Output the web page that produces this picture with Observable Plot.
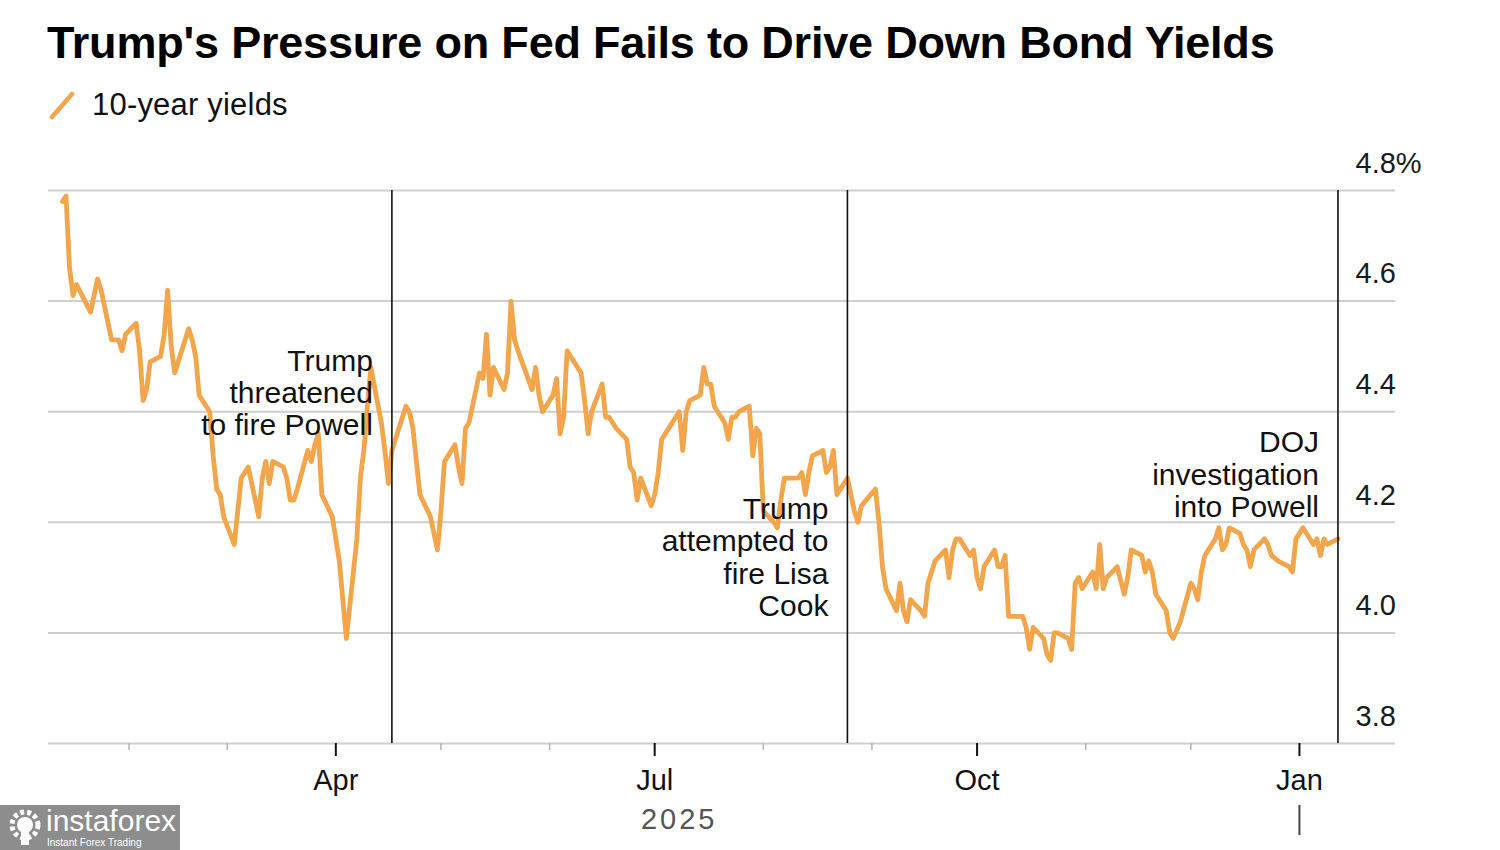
<!DOCTYPE html>
<html>
<head>
<meta charset="utf-8">
<script src="https://cdn.jsdelivr.net/npm/d3@7"></script>
<script src="https://cdn.jsdelivr.net/npm/@observablehq/plot@0.6"></script>
<style>
  html, body { margin: 0; padding: 0; background: #fff; }
  #page { position: relative; width: 1500px; height: 850px; overflow: hidden; font-family: "Liberation Sans", Arial, sans-serif; background: #fff; }
  #title { position: absolute; left: 47px; top: 20px; font-size: 45px; line-height: 45px; font-weight: bold; letter-spacing: -0.2px; color: #000; white-space: nowrap; }
  #legend { position: absolute; left: 48px; top: 89px; height: 32px; width: 400px; }
  #legend svg { position: absolute; left: 0; top: 1px; }
  #legend span { position: absolute; left: 44px; top: 0; font-size: 31px; line-height: 31px; color: #111; white-space: nowrap; letter-spacing: 0.2px; }
  #chart { position: absolute; left: 0; top: 140px; }
  #wm { position: absolute; left: 0; top: 805px; width: 180px; height: 45px; background: #8d8d8d; color: #fff; }
  #wm .big { position: absolute; left: 46px; top: 1px; font-size: 30px; line-height: 30px; white-space: nowrap; }
  #wm .small { position: absolute; left: 47px; top: 33px; font-size: 10px; line-height: 10px; white-space: nowrap; }
</style>
</head>
<body>
<div id="page">
  <div id="title">Trump's Pressure on Fed Fails to Drive Down Bond Yields</div>
  <div id="legend">
    <svg width="30" height="30"><line x1="4" y1="27" x2="24" y2="4" stroke="#F2A54A" stroke-width="4.5" stroke-linecap="round"/></svg>
    <span id="legendLabel"></span>
  </div>
  <div id="chart"></div>
  <div id="wm">
    <svg width="44" height="45" style="position:absolute;left:4px;top:0">
      <circle cx="21" cy="20" r="13" fill="none" stroke="#fff" stroke-width="5" stroke-dasharray="4 3"/>
      <circle cx="21" cy="20" r="8" fill="#fff"/>
      <rect x="17" y="24" width="8" height="16" fill="#fff"/>
    </svg>
    <div class="big">instaforex</div>
    <div class="small">Instant Forex Trading</div>
  </div>
</div>
<script>
// ---- Data ----
const seriesName = "10-year yields";

const dates = [
  "2025-01-13","2025-01-14","2025-01-15","2025-01-16","2025-01-17","2025-01-21","2025-01-22","2025-01-23","2025-01-24","2025-01-27","2025-01-28","2025-01-29","2025-01-30","2025-01-31",
  "2025-02-03","2025-02-04","2025-02-05","2025-02-06","2025-02-07","2025-02-10","2025-02-11","2025-02-12","2025-02-13","2025-02-14","2025-02-18","2025-02-19","2025-02-20","2025-02-21","2025-02-24","2025-02-25","2025-02-26","2025-02-27","2025-02-28",
  "2025-03-03","2025-03-04","2025-03-05","2025-03-06","2025-03-07","2025-03-10","2025-03-11","2025-03-12","2025-03-13","2025-03-14","2025-03-17","2025-03-18","2025-03-19","2025-03-20","2025-03-21","2025-03-24","2025-03-25","2025-03-26","2025-03-27","2025-03-28","2025-03-31",
  "2025-04-01","2025-04-02","2025-04-03","2025-04-04","2025-04-07","2025-04-08","2025-04-09","2025-04-10","2025-04-11","2025-04-14","2025-04-15","2025-04-16","2025-04-17","2025-04-21","2025-04-22","2025-04-23","2025-04-24","2025-04-25","2025-04-28","2025-04-29","2025-04-30",
  "2025-05-01","2025-05-02","2025-05-05","2025-05-06","2025-05-07","2025-05-08","2025-05-09","2025-05-12","2025-05-13","2025-05-14","2025-05-15","2025-05-16","2025-05-19","2025-05-20","2025-05-21","2025-05-22","2025-05-23","2025-05-27","2025-05-28","2025-05-29","2025-05-30",
  "2025-06-02","2025-06-03","2025-06-04","2025-06-05","2025-06-06","2025-06-09","2025-06-10","2025-06-11","2025-06-12","2025-06-13","2025-06-16","2025-06-17","2025-06-18","2025-06-20","2025-06-23","2025-06-24","2025-06-25","2025-06-26","2025-06-27","2025-06-30",
  "2025-07-01","2025-07-02","2025-07-03","2025-07-07","2025-07-08","2025-07-09","2025-07-10","2025-07-11","2025-07-14","2025-07-15","2025-07-16","2025-07-17","2025-07-18","2025-07-21","2025-07-22","2025-07-23","2025-07-24","2025-07-25","2025-07-28","2025-07-29","2025-07-30","2025-07-31",
  "2025-08-01","2025-08-04","2025-08-05","2025-08-06","2025-08-07","2025-08-08","2025-08-11","2025-08-12","2025-08-13","2025-08-14","2025-08-15","2025-08-18","2025-08-19","2025-08-20","2025-08-21","2025-08-22","2025-08-25","2025-08-26","2025-08-27","2025-08-28","2025-08-29",
  "2025-09-02","2025-09-03","2025-09-04","2025-09-05","2025-09-08","2025-09-09","2025-09-10","2025-09-11","2025-09-12","2025-09-15","2025-09-16","2025-09-17","2025-09-18","2025-09-19","2025-09-22","2025-09-23","2025-09-24","2025-09-25","2025-09-26","2025-09-29","2025-09-30",
  "2025-10-01","2025-10-02","2025-10-03","2025-10-06","2025-10-07","2025-10-08","2025-10-09","2025-10-10","2025-10-14","2025-10-15","2025-10-16","2025-10-17","2025-10-20","2025-10-21","2025-10-22","2025-10-23","2025-10-24","2025-10-27","2025-10-28","2025-10-29","2025-10-30","2025-10-31",
  "2025-11-03","2025-11-04","2025-11-05","2025-11-06","2025-11-07","2025-11-10","2025-11-12","2025-11-13","2025-11-14","2025-11-17","2025-11-18","2025-11-19","2025-11-20","2025-11-21","2025-11-24","2025-11-25","2025-11-26","2025-11-28",
  "2025-12-01","2025-12-02","2025-12-03","2025-12-04","2025-12-05","2025-12-08","2025-12-09","2025-12-10","2025-12-11","2025-12-12","2025-12-15","2025-12-16","2025-12-17","2025-12-18","2025-12-19","2025-12-22","2025-12-23","2025-12-24","2025-12-26","2025-12-29","2025-12-30","2025-12-31",
  "2026-01-02","2026-01-05","2026-01-06","2026-01-07","2026-01-08","2026-01-09","2026-01-12"
];

const yields = [
  4.78,4.79,4.66,4.61,4.63,4.58,4.61,4.64,4.62,4.53,4.53,4.53,4.51,4.54,
  4.56,4.51,4.42,4.44,4.49,4.50,4.54,4.62,4.52,4.47,4.55,4.53,4.50,4.43,4.40,4.32,4.26,4.25,4.21,
  4.16,4.22,4.28,4.29,4.30,4.21,4.28,4.31,4.27,4.31,4.30,4.28,4.24,4.24,4.26,4.33,4.31,4.34,4.36,4.25,4.21,
  4.17,4.13,4.06,3.99,4.17,4.28,4.33,4.41,4.48,4.38,4.33,4.27,4.33,4.41,4.40,4.37,4.31,4.25,4.21,4.18,4.15,
  4.22,4.31,4.34,4.30,4.27,4.37,4.38,4.47,4.46,4.54,4.43,4.48,4.44,4.47,4.60,4.53,4.51,4.44,4.48,4.43,4.40,
  4.43,4.46,4.36,4.39,4.51,4.48,4.47,4.42,4.36,4.40,4.45,4.39,4.39,4.37,4.35,4.30,4.29,4.24,4.28,4.23,
  4.25,4.29,4.35,4.39,4.40,4.33,4.40,4.42,4.43,4.48,4.45,4.45,4.41,4.38,4.35,4.39,4.39,4.40,4.41,4.32,4.37,4.36,
  4.22,4.20,4.19,4.24,4.28,4.28,4.28,4.29,4.25,4.29,4.32,4.33,4.29,4.30,4.33,4.25,4.28,4.25,4.22,4.20,4.23,
  4.26,4.20,4.12,4.08,4.04,4.09,4.04,4.02,4.06,4.04,4.03,4.09,4.11,4.13,4.15,4.10,4.15,4.17,4.17,4.14,4.15,
  4.10,4.08,4.12,4.15,4.12,4.12,4.14,4.03,4.03,4.01,3.97,4.01,3.99,3.96,3.95,4.00,4.00,3.99,3.97,4.09,4.10,4.08,
  4.11,4.08,4.16,4.08,4.10,4.12,4.07,4.10,4.15,4.14,4.11,4.13,4.11,4.07,4.04,4.00,3.99,4.02,
  4.09,4.08,4.06,4.11,4.14,4.17,4.19,4.15,4.16,4.19,4.18,4.16,4.15,4.12,4.15,4.17,4.16,4.14,4.13,4.12,4.11,4.17,
  4.19,4.16,4.17,4.14,4.17,4.16,4.17
];

// Events (vertical rules + annotations)
const eventDates = ["2025-04-17", "2025-08-25", "2026-01-12"];
const eventLabels = [
  "Trump\nthreatened\nto fire Powell",
  "Trump\nattempted to\nfire Lisa\nCook",
  "DOJ\ninvestigation\ninto Powell"
];
const eventLabelY = [4.516, 4.248, 4.368];

// Axis ticks and labels
const yTicks = [3.8, 4.0, 4.2, 4.4, 4.6, 4.8];
const xDomain = ["2025-01-09", "2026-01-28T10:00"];
const quarterTicks = ["2025-04-01", "2025-07-01", "2025-10-01", "2026-01-01"];
const quarterLabels = ["Apr", "Jul", "Oct", "Jan"];
const monthTicks = ["2025-02-01","2025-03-01","2025-05-01","2025-06-01","2025-08-01","2025-09-01","2025-11-01","2025-12-01"];
const yearLabel = "2025";
const yearBoundary = ["2026-01-01"];

// ---- Build ----
document.getElementById("legendLabel").textContent = seriesName;

const toDate = s => new Date(s.length > 10 ? s + "Z" : s);
const data = dates.map((d, i) => ({date: toDate(d), value: yields[i]}));
const events = eventDates.map((d, i) => ({date: toDate(d), label: eventLabels[i], y: eventLabelY[i]}));
const qT = quarterTicks.map(toDate);
const mT = monthTicks.map(toDate);
const yB = yearBoundary.map(toDate);
const y2025 = data.filter(d => d.date.getUTCFullYear() === 2025);
const yearMid = new Date((+y2025[0].date + +y2025[y2025.length - 1].date) / 2);

const fmtQ = d => quarterLabels[qT.findIndex(q => +q === +d)];

const chart = Plot.plot({
  width: 1500,
  height: 710,
  marginTop: 50,
  marginBottom: 107,
  marginLeft: 48,
  marginRight: 105,
  style: {fontFamily: "'Liberation Sans', Arial, sans-serif", background: "transparent", overflow: "visible", color: "#111"},
  x: {type: "utc", domain: xDomain.map(toDate)},
  y: {domain: [3.8, 4.8]},
  marks: [
    Plot.gridY(yTicks, {stroke: "#cfcfcf", strokeOpacity: 1, strokeWidth: 2}),
    Plot.axisY(yTicks, {
      anchor: "right", tickSize: 0, tickPadding: 0, dx: -40, dy: -27,
      textAnchor: "start", fontSize: 29, fill: "#1a1a1a",
      tickFormat: d => d === 4.8 ? "4.8%" : d.toFixed(1), label: null
    }),
    Plot.axisX(mT, {tickSize: 7, stroke: "#b3b3b3", strokeWidth: 1.5, tickFormat: () => "", label: null}),
    Plot.axisX(qT, {tickSize: 13, stroke: "#111", strokeWidth: 2, tickPadding: 13, fontSize: 29, fill: "#111", tickFormat: fmtQ, label: null}),
    Plot.axisX(yB, {tickSize: 30, stroke: "#444", strokeWidth: 2, dy: 62, tickFormat: () => "", label: null}),
    Plot.text([yearLabel], {x: () => yearMid, text: d => d, frameAnchor: "bottom", dy: 85, fontSize: 29, fill: "#555"}),
    Plot.line(data, {x: "date", y: "value", stroke: "#F2A54A", strokeWidth: 4.8, strokeLinejoin: "round", strokeLinecap: "round"}),
    Plot.ruleX(events, {x: "date", stroke: "#111", strokeWidth: 1.6}),
    Plot.text(events, {x: "date", y: "y", text: "label", textAnchor: "end", lineAnchor: "top", dx: -19, fontSize: 30, lineHeight: 1.08, fill: "#111"})
  ]
});

d3.select(chart).selectAll("text")
  .filter(function () { return this.textContent === yearLabel; })
  .attr("letter-spacing", "3px");
document.getElementById("chart").appendChild(chart);
</script>
</body>
</html>
